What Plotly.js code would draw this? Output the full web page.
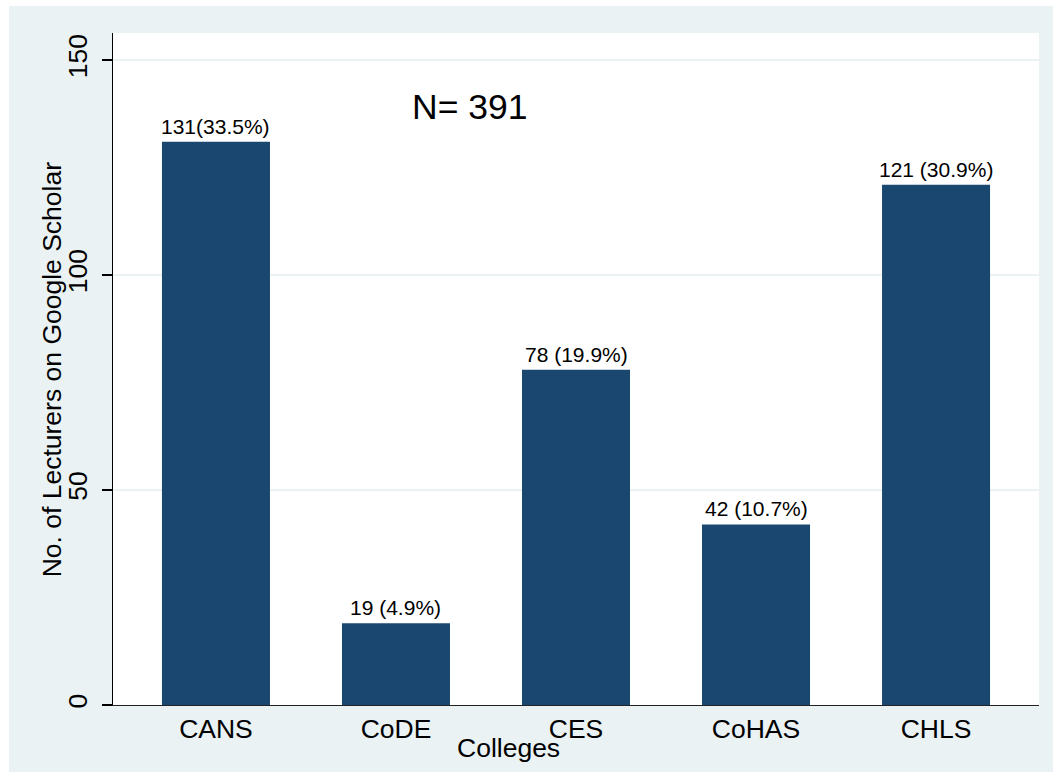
<!DOCTYPE html>
<html>
<head>
<meta charset="utf-8">
<script src="https://cdn.plot.ly/plotly-3.0.1.min.js"></script>
<style>
  html, body { margin: 0; padding: 0; background: #eaf2f3; overflow: hidden; width: 100%; height: 100%; }
  #chart { position: absolute; left: 9px; top: 6px; width: 1044px; height: 766px; }
  #edgeTop { position: absolute; left: 0; top: 0; width: 100%; height: 6px; background: #ffffff; }
  #edgeLeft { position: absolute; left: 0; top: 0; width: 9px; height: 100%; background: #ffffff; }
</style>
</head>
<body>
<div id="edgeTop"></div>
<div id="edgeLeft"></div>
<div id="chart"></div>
<script>
const colleges = ["CANS", "CoDE", "CES", "CoHAS", "CHLS"];
const lecturers = [131, 19, 78, 42, 121];
const barLabels = ["131(33.5%)", "19 (4.9%)", "78 (19.9%)", "42 (10.7%)", "121 (30.9%)"];
const yTicks = [0, 50, 100, 150];
const totalN = 391;
const xTitle = "Colleges";
const yTitle = "No. of Lecturers on Google Scholar";

const FONT = "Liberation Sans, Arial, Helvetica, sans-serif";

const trace = {
  type: "bar",
  x: colleges,
  y: lecturers,
  width: 0.6,
  marker: { color: "#1a476f", line: { width: 0 } },
  hoverinfo: "x+y"
};

const annotations = colleges.map((c, i) => ({
  x: c, y: lecturers[i], xref: "x", yref: "y",
  text: barLabels[i], showarrow: false,
  xanchor: "center", yanchor: "bottom", yshift: 2,
  font: { family: FONT, size: 21, color: "#000000" }
}));

annotations.push({
  x: 1.41, y: 139, xref: "x", yref: "y",
  text: "N= " + totalN, showarrow: false,
  xanchor: "center", yanchor: "middle",
  font: { family: FONT, size: 35.5, color: "#000000" }
});

annotations.push({
  x: 0.4266, y: -0.0635, xref: "paper", yref: "paper",
  text: xTitle, showarrow: false,
  xanchor: "center", yanchor: "middle",
  font: { family: FONT, size: 26.5, color: "#000000" }
});

annotations.push({
  x: -0.0655, y: 0.5, xref: "paper", yref: "paper",
  text: yTitle, showarrow: false, textangle: -90,
  xanchor: "center", yanchor: "middle",
  font: { family: FONT, size: 26.5, color: "#000000" }
});

const layout = {
  width: 1044, height: 766,
  margin: { l: 104, r: 14, t: 27, b: 67 },
  paper_bgcolor: "#eaf2f3",
  plot_bgcolor: "#ffffff",
  showlegend: false,
  font: { family: FONT, size: 26.5, color: "#000000" },
  xaxis: {
    type: "category",
    range: [-0.572, 4.572],
    showgrid: false, zeroline: false,
    showline: true, linecolor: "#222222", linewidth: 1.3,
    ticks: "",
    tickfont: { family: FONT, size: 26.5, color: "#000000" },
    automargin: false
  },
  yaxis: {
    range: [0, 156.3],
    tickvals: yTicks,
    ticktext: yTicks.map(String),
    tickangle: -90,
    showgrid: true, gridcolor: "#eaf2f3", gridwidth: 2,
    zeroline: false,
    showline: true, linecolor: "#000000", linewidth: 1.3,
    ticks: "outside", ticklen: 10, tickcolor: "#000000", tickwidth: 1.3,
    ticklabelstandoff: 4,
    tickfont: { family: FONT, size: 26.5, color: "#000000" },
    automargin: false
  },
  annotations: annotations,
  bargap: 0.4
};

Plotly.newPlot("chart", [trace], layout, { displayModeBar: false, staticPlot: true });
</script>
</body>
</html>
